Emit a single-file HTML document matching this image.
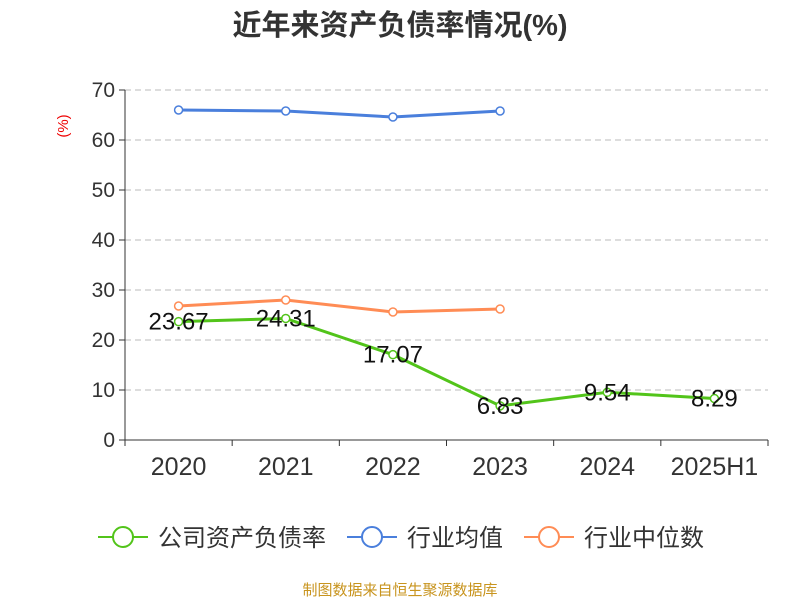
<!DOCTYPE html>
<html><head><meta charset="utf-8"><style>
body{margin:0;background:#fff;font-family:"Liberation Sans","Noto Sans CJK SC",sans-serif;}
</style></head><body>
<svg id="chart" width="800" height="600" xmlns="http://www.w3.org/2000/svg" font-family="Liberation Sans, Noto Sans CJK SC, sans-serif">
<text x="400" y="35" text-anchor="middle" font-size="29" font-weight="bold" fill="#333">近年来资产负债率情况(%)</text>
<text transform="translate(68,126) rotate(-90)" text-anchor="middle" font-size="15" fill="#e00">(%)</text>
<g id="grid"></g><g id="axes"></g><g id="series"></g>
<g>
<g><line x1="98" y1="537" x2="148" y2="537" stroke="#52c41a" stroke-width="2"/><circle cx="123" cy="537" r="10" fill="#fff" stroke="#52c41a" stroke-width="2"/><text x="158" y="546" font-size="24" fill="#333">公司资产负债率</text></g>
<g><line x1="347" y1="537" x2="397" y2="537" stroke="#4a7fdc" stroke-width="2"/><circle cx="372" cy="537" r="10" fill="#fff" stroke="#4a7fdc" stroke-width="2"/><text x="407" y="546" font-size="24" fill="#333">行业均值</text></g>
<g><line x1="524" y1="537" x2="574" y2="537" stroke="#ff8c55" stroke-width="2"/><circle cx="549" cy="537" r="10" fill="#fff" stroke="#ff8c55" stroke-width="2"/><text x="584" y="546" font-size="24" fill="#333">行业中位数</text></g>
</g>
<text x="400" y="595" text-anchor="middle" font-size="15" fill="#c8941e">制图数据来自恒生聚源数据库</text>
</svg>
<script>
const categories=["2020","2021","2022","2023","2024","2025H1"];
const companyValues=[23.67,24.31,17.07,6.83,9.54,8.29];
const industryAvg=[66.0,65.8,64.6,65.8,null,null];
const industryMedian=[26.8,28.0,25.6,26.2,null,null];
const yTicks=[0,10,20,30,40,50,60,70];
const NS="http://www.w3.org/2000/svg";
const x0=125,x1=768,yBase=440,yTop=90,yMax=70;
const bw=(x1-x0)/categories.length;
const xs=i=>x0+bw*(i+0.5);
const ys=v=>yBase-(v/yMax)*(yBase-yTop);
function mk(tag,attrs,parent){const e=document.createElementNS(NS,tag);for(const k in attrs)e.setAttribute(k,attrs[k]);parent.appendChild(e);return e;}
const grid=document.getElementById('grid'),axes=document.getElementById('axes'),series=document.getElementById('series');
yTicks.forEach(t=>{
  if(t>0){const g=mk('line',{x1:x0,x2:x1,y1:ys(t),y2:ys(t),stroke:'#bbb','stroke-dasharray':'6,4'},grid);
  
  }
  const tk=mk('line',{x1:x0-6,x2:x0,y1:ys(t),y2:ys(t),stroke:'#333'},axes);
  
  
  const lb=mk('text',{x:x0-10,y:ys(t)+7,'text-anchor':'end','font-size':21,fill:'#333'},axes);lb.textContent=t;
  
  
});
const ya=mk('line',{x1:x0,x2:x0,y1:yTop,y2:yBase,stroke:'#333'},axes);


const xa=mk('line',{x1:x0,x2:x1,y1:yBase,y2:yBase,stroke:'#333'},axes);


for(let i=0;i<=categories.length;i++){const tk=mk('line',{x1:x0+bw*i,x2:x0+bw*i,y1:yBase,y2:yBase+6,stroke:'#333'},axes);
  
  }
categories.forEach((c,i)=>{const t=mk('text',{x:xs(i),y:475,'text-anchor':'middle','font-size':25,fill:'#333'},axes);t.textContent=c;
  
  });
function drawSeries(vals,color,name,labels){
  const pts=vals.map((v,i)=>v==null?null:[xs(i),ys(v)]).filter(p=>p);
  const pl=mk('polyline',{points:pts.map(p=>p.join(',')).join(' '),fill:'none',stroke:color,'stroke-width':3},series);
  
  
  vals.forEach((v,i)=>{if(v==null)return;
    const c=mk('circle',{cx:xs(i),cy:ys(v),r:4,fill:'#fff',stroke:color,'stroke-width':1.5},series);
    
    
    if(labels){const t=mk('text',{x:xs(i),y:ys(v)+8,'text-anchor':'middle','font-size':24,fill:'#111'},series);t.textContent=v.toFixed(2);
      
      }
  });
}
drawSeries(industryAvg,'#4a7fdc','industry-average',false);
drawSeries(industryMedian,'#ff8c55','industry-median',false);
drawSeries(companyValues,'#52c41a','company-debt-ratio',true);
</script>
</body></html>
